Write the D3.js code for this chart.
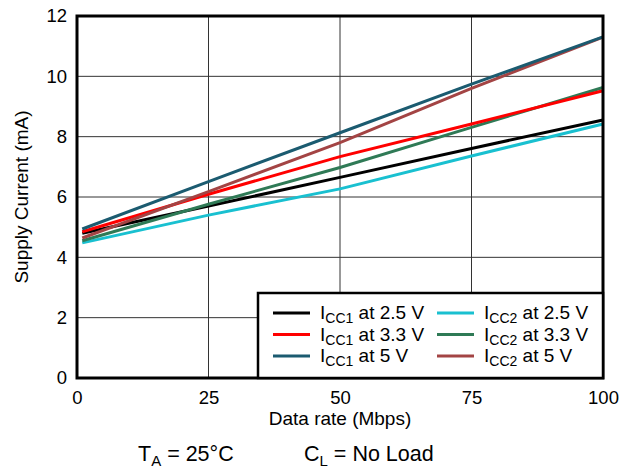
<!DOCTYPE html>
<html>
<head>
<meta charset="utf-8">
<script src="https://cdn.jsdelivr.net/npm/d3@7"></script>
<style>
  body { margin: 0; background: #fff; }
  text { font-family: "Liberation Sans", Arial, sans-serif; }
</style>
</head>
<body>
<div id="chart"></div>
<script>
// data rate (Mbps) where the curves were sampled
var rates = [1, 25, 50, 75, 100];

var icc1_25 = [4.80, 5.70, 6.65, 7.61, 8.55];
var icc1_33 = [4.85, 6.09, 7.34, 8.42, 9.52];
var icc1_50 = [4.94, 6.51, 8.13, 9.74, 11.31];
var icc2_25 = [4.48, 5.40, 6.27, 7.36, 8.42];
var icc2_33 = [4.55, 5.76, 6.98, 8.31, 9.63];
var icc2_50 = [4.64, 6.18, 7.80, 9.60, 11.30];

var xTicks = [0, 25, 50, 75, 100];
var yTicks = [0, 2, 4, 6, 8, 10, 12];

var series = [
    { sub: 'CC1', v: '2.5 V', values: icc1_25, color: '#000000' },
    { sub: 'CC1', v: '3.3 V', values: icc1_33, color: '#ff0000' },
    { sub: 'CC1', v: '5 V',   values: icc1_50, color: '#1b5b70' },
    { sub: 'CC2', v: '2.5 V', values: icc2_25, color: '#19c0d0' },
    { sub: 'CC2', v: '3.3 V', values: icc2_33, color: '#2f7a56' },
    { sub: 'CC2', v: '5 V',   values: icc2_50, color: '#a34444' }
];
// draw order (last on top)
var drawOrder = [3, 0, 4, 1, 5, 2];

var width = 632, height = 470;
var margin = {top: 16, right: 29, bottom: 92, left: 77};
var plotW = width - margin.left - margin.right,
    plotH = height - margin.top - margin.bottom;

var svg = d3.select('#chart').append('svg')
    .attr('width', width)
    .attr('height', height);

var g = svg.append('g')
    .attr('transform', `translate(${margin.left}, ${margin.top})`);

var x = d3.scaleLinear().domain([0, 100]).range([0, plotW]);
var y = d3.scaleLinear().domain([0, 12]).range([plotH, 0]);

// grid
g.selectAll('.vgrid').data(xTicks.slice(1, -1)).enter().append('line')
    .attr('x1', d => x(d)).attr('x2', d => x(d))
    .attr('y1', 0).attr('y2', plotH)
    .style('stroke', '#333').style('stroke-width', 1);
g.selectAll('.hgrid').data(yTicks.slice(1, -1)).enter().append('line')
    .attr('x1', 0).attr('x2', plotW)
    .attr('y1', d => y(d)).attr('y2', d => y(d))
    .style('stroke', '#333').style('stroke-width', 1);

// axes (labels only)
var xAxis = g.append('g')
    .attr('transform', `translate(0, ${plotH})`)
    .call(d3.axisBottom(x).tickValues(xTicks).tickSize(0).tickPadding(13));
var yAxis = g.append('g')
    .call(d3.axisLeft(y).tickValues(yTicks).tickSize(0).tickPadding(10));
[xAxis, yAxis].forEach(function(a) {
    a.select('.domain').remove();
    a.selectAll('text')
        .style('font-size', '18.5px')
        .style('fill', '#000')
        .style('font-family', '"Liberation Sans", Arial, sans-serif');
});

// lines
var line = d3.line()
    .x((d, i) => x(rates[i]))
    .y(d => y(d));

drawOrder.forEach(function(k) {
    g.append('path')
        .datum(series[k].values)
        .attr('d', line)
        .style('fill', 'none')
        .style('stroke', series[k].color)
        .style('stroke-width', 3);
});

// frame
g.append('rect')
    .attr('width', plotW).attr('height', plotH)
    .style('fill', 'none')
    .style('stroke', '#000')
    .style('stroke-width', 3);

// legend
var legX = 258 - margin.left, legY = 293 - margin.top;
var legend = g.append('g').attr('transform', `translate(${legX}, ${legY})`);
legend.append('rect')
    .attr('width', plotW - legX).attr('height', plotH - legY)
    .style('fill', '#fff')
    .style('stroke', '#000')
    .style('stroke-width', 2.5);

series.forEach(function(s, i) {
    var col = Math.floor(i / 3), row = i % 3;
    var lx = 15 + col * 164, ly = 20 + row * 21.5;
    var item = legend.append('g').attr('transform', `translate(${lx}, ${ly})`);
    item.append('line')
        .attr('x1', 0).attr('x2', 37)
        .attr('y1', 0).attr('y2', 0)
        .style('stroke', s.color)
        .style('stroke-width', 3);
    var t = item.append('text')
        .attr('x', 47).attr('y', 6)
        .style('font-size', '19px');
    t.append('tspan').text('I');
    t.append('tspan').attr('dy', 4).style('font-size', '14px').text(s.sub);
    t.append('tspan').attr('dy', -4).text(' at ' + s.v);
});

// axis titles
svg.append('text')
    .attr('transform', `translate(28, ${margin.top + plotH / 2}) rotate(-90)`)
    .style('text-anchor', 'middle')
    .style('font-size', '19px')
    .text('Supply Current (mA)');

svg.append('text')
    .attr('x', margin.left + plotW / 2).attr('y', 425)
    .style('text-anchor', 'middle')
    .style('font-size', '19px')
    .text('Data rate (Mbps)');

// conditions
var cond1 = svg.append('text').attr('x', 138).attr('y', 461).style('font-size', '21.5px');
cond1.append('tspan').text('T');
cond1.append('tspan').attr('dy', 5).style('font-size', '15px').text('A');
cond1.append('tspan').attr('dy', -5).text(' = 25°C');

var cond2 = svg.append('text').attr('x', 304).attr('y', 461).style('font-size', '21.5px');
cond2.append('tspan').text('C');
cond2.append('tspan').attr('dy', 5).style('font-size', '15px').text('L');
cond2.append('tspan').attr('dy', -5).text(' = No Load');
</script>
</body>
</html>
